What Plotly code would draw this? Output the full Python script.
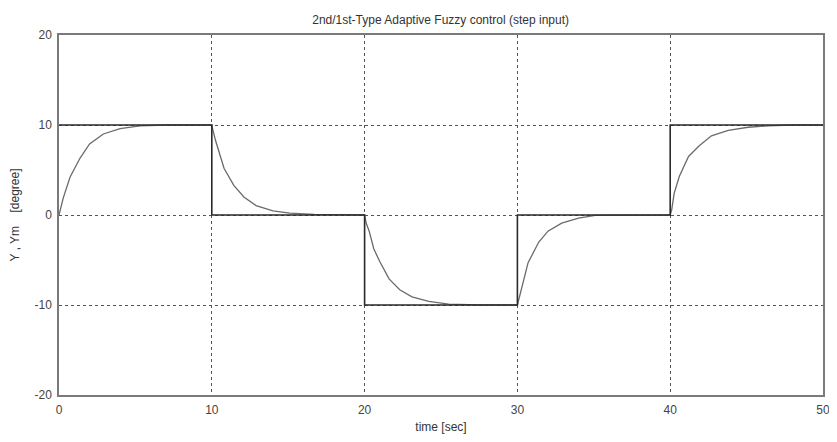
import plotly.graph_objects as go

# Reference (step command) signal
t_cmd = [0, 10, 10, 20, 20, 30, 30, 40, 40, 50]
y_cmd = [10, 10, 0, 0, -10, -10, 0, 0, 10, 10]

# Plant response
t_resp = [0, 0.06, 0.28, 0.72, 1.37, 2.0, 2.9, 4.0, 5.3, 7.0, 10.0,
          10.05, 10.24, 10.8, 11.44, 12.1, 12.9, 14.0, 15.1, 16.7, 18.5, 20.0,
          20.1, 20.3, 20.6, 21.0, 21.6, 22.3, 23.1, 24.2, 25.5, 27.5, 30.0,
          30.06, 30.3, 30.7, 31.4, 32.0, 32.9, 34.0, 35.1, 37.0, 40.0,
          40.1, 40.26, 40.6, 41.2, 41.9, 42.7, 43.8, 45.1, 46.4, 48.0, 50.0]
y_resp = [0, 0.4, 1.9, 4.2, 6.3, 7.9, 9.0, 9.6, 9.9, 10.0, 10.0,
          9.6, 8.3, 5.2, 3.3, 2.0, 1.05, 0.45, 0.2, 0.08, 0.02, 0.0,
          -0.9, -1.8, -3.75, -5.2, -7.1, -8.3, -9.1, -9.6, -9.9, -10.0, -10.0,
          -9.6, -7.9, -5.3, -3.0, -1.8, -0.9, -0.35, -0.05, 0.0, 0.0,
          0.6, 2.4, 4.3, 6.5, 7.7, 8.8, 9.4, 9.75, 9.9, 10.0, 10.0]

x_ticks = [0, 10, 20, 30, 40, 50]
y_ticks = [-20, -10, 0, 10, 20]

title_text = "2nd/1st-Type Adaptive Fuzzy control (step input)"
x_title = "time [sec]"
y_title = "Y , Ym    [degree]"

fig = go.Figure()
fig.add_trace(go.Scatter(x=t_resp, y=y_resp, mode="lines",
                         line=dict(color="#6a6a6a", width=1.3), showlegend=False))
fig.add_trace(go.Scatter(x=t_cmd, y=y_cmd, mode="lines",
                         line=dict(color="#2a2a2a", width=1.6), showlegend=False))

font_family = "Liberation Sans, Arial, sans-serif"
axis_common = dict(
    showgrid=True, gridcolor="#555555", gridwidth=1, griddash="3px,3px",
    showline=True, linecolor="#7a7a7a", linewidth=1.5, mirror=True,
    zeroline=False, ticks="", automargin=False, ticklabeloverflow="allow",
    tickfont=dict(family=font_family, size=12, color="#444444"),
)

fig.update_layout(
    width=821, height=426,
    margin=dict(l=51, r=6, t=27, b=39),
    paper_bgcolor="white", plot_bgcolor="white",
    title=dict(text=title_text, x=0.527, xanchor="center", y=0.972, yanchor="middle",
               font=dict(family=font_family, size=12, color="#333333")),
    xaxis=dict(range=[0, 50], tickvals=x_ticks, ticktext=[str(v) for v in x_ticks],
               ticklabelstandoff=3,
               title=dict(text=x_title, standoff=8, font=dict(family=font_family, size=12, color="#333333")),
               **axis_common),
    yaxis=dict(range=[-20, 20], tickvals=y_ticks, ticktext=[str(v) for v in y_ticks],
               ticklabelstandoff=3,
               title=dict(text=y_title, standoff=14, font=dict(family=font_family, size=12, color="#333333")),
               **axis_common),
)

fig.write_html("out.html")
